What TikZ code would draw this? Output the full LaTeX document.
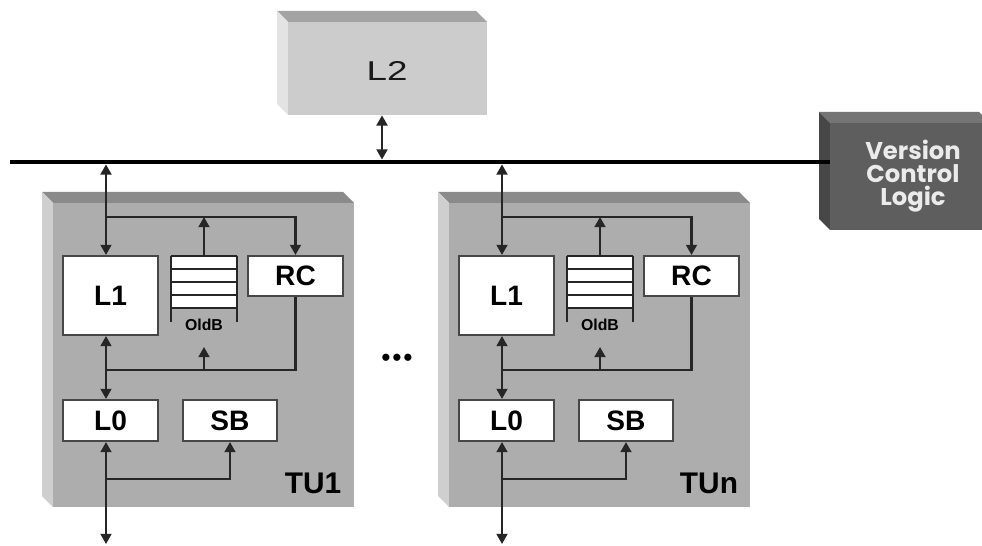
\documentclass[tikz,border=0pt]{standalone}
\usepackage{fontspec}
\setmainfont{Liberation Sans}
\newfontfamily\geofont{Poppins}
\newfontfamily\widefont[FakeStretch=1.35]{Liberation Sans}
\usetikzlibrary{arrows.meta,fit}
\tikzset{
  unitbox/.style={draw=black!72,line width=1.2pt,fill=white,inner sep=0pt,
    font=\bfseries\fontsize{16}{18}\selectfont},
  wire/.style={line width=1.25pt,draw=black!85},
  tip/.style={-{Triangle[length=5.8pt,width=6.2pt]}},
  tips/.style={{Triangle[length=5.8pt,width=6.2pt]}-{Triangle[length=5.8pt,width=6.2pt]}}
}
\newcommand{\slab}[8]{%
  \fill[#7] (#2-11,#3-11) -- (#4-11,#3-11) -- (#4,#3) -- (#2,#3) -- cycle;
  \fill[#8] (#2-11,#3-11) -- (#2,#3) -- (#2,#5) -- (#2-11,#5-11) -- cycle;
  \node[fit={(#2,#3) (#4,#5)},inner sep=0pt,fill=#6] (#1) {};}

\begin{document}
\begin{tikzpicture}[x=0.02cm,y=-0.02cm]
  \useasboundingbox[fill=white] (0,0) rectangle (982,546);
  \slab{l2}{288}{22}{487}{115}{black!20}{black!36}{black!11}
  \node[font=\widefont\fontsize{15.5}{18}\selectfont,text=black!90] (l2lab) at (387,71) {L2};
  \coordinate (busw) at (10,162);
  \foreach \dx/\nm/\lab in {0/a/TU1,396/b/TUn}{
    \slab{tu\nm}{53+\dx}{203}{354+\dx}{507}{black!32}{black!46}{black!19}
    \node[font=\bfseries\fontsize{17}{20}\selectfont] (lab\nm) at (313+\dx,483) {\lab};
    \coordinate (sp\nm) at (106+\dx,0);
    \node[unitbox,minimum width=1.9cm,minimum height=1.58cm] (l1\nm) at (110.5+\dx,295.5) {L1};
    \node[unitbox,minimum width=1.9cm,minimum height=0.8cm] (rc\nm) at (295.5+\dx,276) {RC};
    \node[unitbox,minimum width=1.9cm,minimum height=0.82cm] (l0\nm) at (110.5+\dx,420.5) {L0};
    \node[unitbox,minimum width=1.88cm,minimum height=0.82cm] (sb\nm) at (230+\dx,420.5) {SB};
    \node[fill=white,inner sep=0pt,minimum width=1.32cm,minimum height=1.04cm] (ob\nm) at (204+\dx,282) {};
    \foreach \k in {0,...,4}
      \draw[wire] ([yshift=-\k*0.26cm]ob\nm.north west) -- ([yshift=-\k*0.26cm]ob\nm.north east);
    \draw[wire] (ob\nm.north west) -- ++(0,66);
    \draw[wire] (ob\nm.north east) -- ++(0,66);
    \node[font=\bfseries\fontsize{9}{10}\selectfont] (obl\nm) at (204+\dx,325) {OldB};
    \coordinate (tl\nm) at (106+\dx,217);
    \coordinate (ml\nm) at (106+\dx,370);
    \coordinate (br\nm) at (106+\dx,479);
    \coordinate (bt\nm) at (106+\dx,544);
    \draw[wire,tips,shorten >=1.4pt] (sp\nm |- l1\nm.north) -- (sp\nm |- busw);
    \draw[wire,tip] (tl\nm) -| (rc\nm.north);
    \draw[wire,tip] (ob\nm.north) -- (ob\nm.north |- tl\nm);
    \draw[wire,tips] (sp\nm |- l1\nm.south) -- (sp\nm |- l0\nm.north);
    \draw[wire] (ml\nm) -| (rc\nm.south);
    \draw[wire,tip] (ob\nm.north |- ml\nm) -- ++(0,-23);
    \draw[wire,tips] (sp\nm |- l0\nm.south) -- (bt\nm);
    \draw[wire,tip] (br\nm) -| (sb\nm.south);
  }
  \node[font=\fontsize{15}{16}\selectfont] (dots) at (397,360) {\textbullet\kern1pt\textbullet\kern1pt\textbullet};
  \draw[wire,tips,shorten >=1.4pt] ([xshift=-0.11cm]l2.south) -- ([xshift=-0.11cm]l2.south |- busw);
  \slab{vcl}{830}{123}{990}{230}{black!63}{black!54}{black!72}
  \draw[line width=2.8pt] (busw) -- (busw -| vcl.west);
  \node[align=center,text=black!8,font=\geofont\bfseries\fontsize{13.8}{13}\selectfont] (vcllab) at (913,176) {Version\\Control\\Logic};
\end{tikzpicture}
\end{document}
